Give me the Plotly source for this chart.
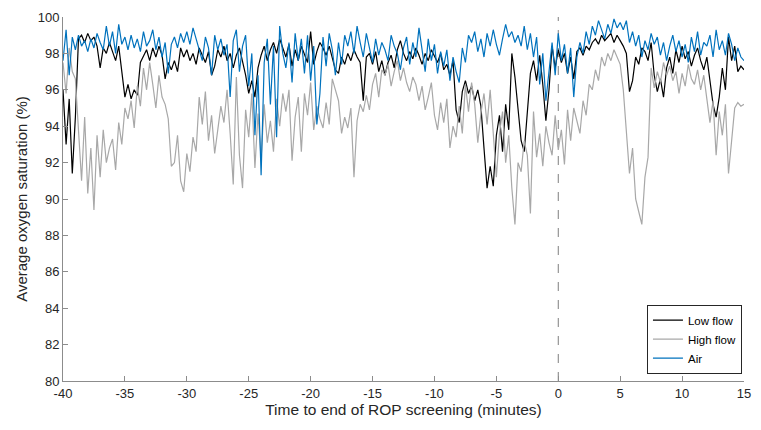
import numpy as np
import plotly.graph_objects as go

# Time axis: minutes to end of ROP screening, every 0.25 min from -40 to 15
time_min = np.round(np.arange(-40, 15.0001, 0.25), 2)

low_flow = [
    96.0, 93.0, 95.5, 91.4,  94.5, 98.8, 99.0, 98.6,  99.1, 98.7, 98.9, 98.4,
    97.2, 98.3, 98.0, 98.6,  98.1, 97.6, 98.4, 97.0,  95.6, 96.3, 95.5, 96.0,
    95.7, 97.5, 97.9, 98.2,  97.6, 98.3, 97.8, 98.4,  97.9, 96.6, 97.5, 97.1,
    97.6, 97.0, 98.3, 97.8,  98.2, 97.6, 98.0, 97.4,  98.3, 97.9, 97.5, 98.1,
    96.8, 97.3, 98.2, 97.8,  98.4, 97.6, 98.0, 97.2,  97.9, 98.3, 97.5, 96.8,
    95.8, 96.5, 95.6, 97.2,  97.9, 98.4, 97.6, 98.2,  98.6, 98.0, 98.8, 98.3,
    97.8, 98.5, 97.3, 98.2,  97.6, 98.4, 98.0, 97.5,  99.2, 97.4, 98.1, 98.6,
    98.3, 97.9, 98.4, 97.7,  97.1, 96.9, 97.8, 97.4,  98.0, 97.6, 98.2, 97.8,
    97.5, 95.4, 97.8, 98.0,  97.4, 98.1, 97.0, 97.6,  96.8, 97.5, 97.9, 97.2,
    98.2, 98.7, 98.0, 97.6,  98.1, 97.7, 98.3, 97.9,  97.4, 98.0, 97.6, 98.2,
    97.8, 97.5, 98.0, 97.1,  97.4, 96.8, 97.6, 94.9,  94.2, 95.9, 96.5, 95.8,
    96.2, 95.4, 96.0, 95.1,  92.8, 90.6, 91.8, 90.7,  93.5, 94.6, 92.6, 95.2,
    93.8, 98.0, 96.7, 95.0,  93.2, 92.6, 94.7, 96.9,  97.6, 96.5, 97.9, 96.3,
    94.3, 96.0, 98.4, 97.2,  98.2, 97.5, 98.0, 96.9,  97.8, 96.6, 98.1, 98.3,
    97.9, 98.4, 98.2, 98.6,  98.8, 98.5, 99.0, 98.7,  98.9, 99.1, 98.6, 99.0,
    98.7, 98.4, 98.0, 95.9,  96.5, 97.8, 97.4, 98.3,  98.1, 97.6, 98.6, 96.8,
    95.9, 96.6, 95.6, 97.2,  97.8, 96.9, 98.2, 97.5,  98.4, 97.7, 98.1, 97.3,
    97.9, 98.3, 97.6, 97.1,  97.8, 96.4, 95.2, 94.5,  95.6, 97.2, 96.0, 98.9,
    97.6, 98.4, 97.0, 97.3,  97.1,
]

high_flow = [
    97.5, 95.8, 98.3, 97.0,  96.6, 93.6, 91.0, 94.5,  90.3, 92.8, 89.4, 93.5,
    91.2, 93.8, 92.0, 92.8,  93.3, 91.6, 94.2, 93.0,  95.0, 94.4, 95.4, 93.9,
    96.2, 95.1, 97.2, 96.0,  97.5, 96.3, 95.0, 96.8,  95.6, 95.2, 94.4, 91.8,
    92.0, 93.5, 91.0, 90.4,  92.5, 91.5, 93.4, 92.6,  95.6, 94.1, 95.9, 93.2,
    94.6, 92.5, 93.8, 95.1,  94.2, 96.0, 93.6, 90.8,  96.7, 92.4, 90.6, 94.9,
    93.4, 95.8, 91.7, 94.7,  92.2, 95.2, 93.1, 94.3,  92.6, 95.5, 94.0, 95.8,
    94.8, 96.0, 92.1, 94.5,  95.6, 92.6, 95.8, 94.6,  96.4, 93.8, 95.1, 94.4,
    93.9, 95.3, 94.1, 96.6,  96.0, 95.4, 93.6, 94.5,  93.9, 95.0, 91.2, 94.3,
    95.2, 94.8, 95.7, 94.9,  96.3, 96.9, 95.6, 97.1,  96.8, 97.4, 96.2, 97.0,
    97.6, 96.5, 97.2, 96.4,  95.9, 96.7, 96.3, 95.4,  96.2, 94.9, 95.6, 96.4,
    94.6, 93.8, 95.3, 94.2,  95.5, 92.8, 94.0, 93.4,  95.1, 93.6, 96.3, 94.8,
    96.4, 95.2, 93.1, 94.7,  95.8, 94.1, 96.0, 93.4,  91.2, 93.6, 94.8, 92.0,
    93.5, 90.6, 88.6, 92.0,  91.5, 93.2, 92.4, 89.2,  94.8, 92.3, 93.6, 91.8,
    94.0, 93.1, 92.4, 94.6,  92.7, 93.8, 91.9, 94.9,  93.2, 95.0, 94.2, 93.6,
    95.4, 94.6, 96.3, 96.0,  97.1, 96.5, 97.8, 97.3,  98.0, 97.6, 98.2, 97.8,
    97.4, 96.0, 93.5, 91.4,  92.8, 90.0, 89.3, 88.6,  91.2, 92.3, 97.2, 96.1,
    97.0, 96.4, 97.5, 96.8,  97.3, 96.5, 97.0, 95.8,  96.9, 96.2, 97.4, 96.6,
    96.3, 97.1, 96.0, 96.8,  95.5, 94.2, 95.4, 92.4,  94.8, 93.5, 95.2, 91.4,
    93.2, 95.0, 95.3, 95.1,  95.2,
]

air = [
    97.6, 99.3, 96.8, 98.9,  98.2, 99.0, 98.4, 98.7,  98.1, 98.8, 98.3, 99.1,
    98.6, 98.2, 99.5, 98.4,  99.2, 98.0, 99.6, 98.5,  98.9, 98.2, 99.0, 98.3,
    98.8, 98.1, 99.2, 98.4,  98.7, 99.3, 98.2, 98.9,  97.8, 98.6, 96.9, 98.5,
    98.9, 98.3, 99.1, 98.6,  99.2, 98.5, 99.4, 98.8,  98.1, 97.6, 98.9, 98.3,
    96.8, 99.0, 98.2, 98.8,  97.9, 98.5, 95.6, 98.7,  99.3, 97.0, 98.4, 99.0,
    96.2, 98.0, 93.5, 96.8,  91.3, 97.5, 98.8, 95.2,  98.4, 93.4, 99.5, 98.0,
    97.2, 98.6, 96.4, 99.1,  97.6, 98.8, 96.9, 99.0,  96.5, 98.4, 94.1, 95.8,
    98.9, 97.3, 99.1, 98.2,  96.8, 98.6, 97.4, 99.0,  98.4, 99.2, 98.0, 99.5,
    98.6, 97.8, 99.1, 98.2,  97.5, 98.8, 97.9, 98.6,  98.2, 97.6, 99.0, 98.4,
    98.0, 97.1, 98.3, 98.9,  97.4, 98.6, 97.8, 99.4,  98.2, 97.0, 98.8, 97.6,
    98.5, 96.9, 98.1, 97.3,  98.2, 96.5, 97.8, 97.0,  96.4, 98.3, 97.5, 99.0,
    98.6, 99.2, 98.1, 98.8,  97.8, 99.1, 98.4, 99.3,  98.5, 97.9, 98.8, 99.6,
    98.9, 99.2, 98.6, 99.0,  98.4, 99.5, 98.2, 99.1,  97.8, 98.9, 96.3, 98.0,
    95.4, 97.1, 98.6, 96.8,  99.1, 97.6, 98.5, 96.9,  98.3, 95.6, 97.8, 98.6,
    98.0, 99.2, 98.5, 99.5,  99.0, 99.8, 99.3, 98.8,  99.6, 99.1, 99.9, 99.4,
    99.7, 99.3, 99.8, 98.6,  99.2, 98.4, 99.0, 97.8,  98.7, 98.2, 99.1, 98.5,
    98.9, 97.9, 98.6, 97.6,  98.4, 99.0, 98.1, 98.7,  97.8, 98.5, 97.5, 98.9,
    98.1, 99.2, 97.9, 98.6,  98.4, 99.0, 97.8, 99.3,  98.2, 98.7, 97.9, 99.1,
    98.5, 97.6, 98.3, 97.8,  97.6,
]

x_ticks = [-40, -35, -30, -25, -20, -15, -10, -5, 0, 5, 10, 15]
x_tick_labels = ["-40", "-35", "-30", "-25", "-20", "-15", "-10", "-5", "0", "5", "10", "15"]
y_ticks = [80, 82, 84, 86, 88, 90, 92, 94, 96, 98, 100]
y_tick_labels = [str(v) for v in y_ticks]

FONT = "Liberation Sans, Arial, Helvetica, sans-serif"

fig = go.Figure()
fig.add_trace(go.Scatter(x=time_min, y=low_flow, mode="lines", name="Low flow",
                         line=dict(color="#000000", width=1.2)))
fig.add_trace(go.Scatter(x=time_min, y=high_flow, mode="lines", name="High flow",
                         line=dict(color="#a8a8a8", width=1.2)))
fig.add_trace(go.Scatter(x=time_min, y=air, mode="lines", name="Air",
                         line=dict(color="#0072BD", width=1.2)))

fig.add_shape(type="line", xref="x", yref="paper", x0=0, x1=0, y0=0, y1=1,
              line=dict(color="#7f7f7f", width=1, dash="dash"), layer="below")

axis_common = dict(
    showgrid=False, zeroline=False, showline=True, linecolor="#8c8c8c", linewidth=1,
    ticks="inside", ticklen=5, tickcolor="#8c8c8c", tickwidth=1,
    tickfont=dict(family=FONT, size=13, color="#262626"),
    ticklabeloverflow="allow",
    mirror=False,
)

# The page body has an 8 px margin; the figure is sized to fit without overflow.
fig.update_layout(
    width=745, height=414,
    margin=dict(l=55, r=9, t=9, b=41, autoexpand=False),
    paper_bgcolor="white", plot_bgcolor="white",
    font=dict(family=FONT, color="#262626"),
    xaxis=dict(range=[-40, 15], tickvals=x_ticks, ticktext=x_tick_labels, **axis_common,
               title=dict(text="Time to end of ROP screening (minutes)",
                          font=dict(family=FONT, size=15.5, color="#262626"), standoff=4)),
    yaxis=dict(range=[80, 100], tickvals=y_ticks, ticktext=y_tick_labels, **axis_common,
               title=dict(text="Average oxygen saturation (%)",
                          font=dict(family=FONT, size=15, color="#262626"), standoff=6)),
    legend=dict(x=0.997, y=0.02, xanchor="right", yanchor="bottom",
                bgcolor="white", bordercolor="#262626", borderwidth=1,
                font=dict(family=FONT, size=11.5, color="#000000"),
                tracegroupgap=0, itemwidth=30),
    showlegend=True,
)

fig.write_html("out.html")
